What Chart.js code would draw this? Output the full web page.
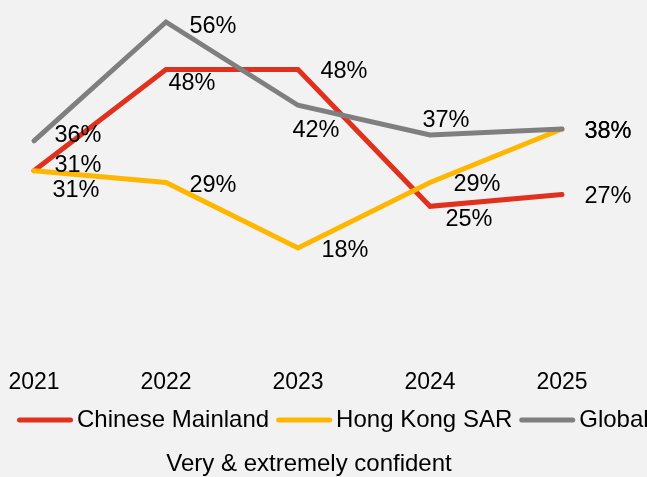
<!DOCTYPE html>
<html>
<head>
<meta charset="utf-8">
<script src="https://cdn.jsdelivr.net/npm/chart.js@4/dist/chart.umd.min.js"></script>
<style>
  html, body { margin: 0; padding: 0; background: #f2f2f2; }
  canvas { display: block; }
</style>
</head>
<body>
<canvas id="chart" width="647" height="477"></canvas>
<script>
// Survey years and share of CEOs "very & extremely confident" (%)
const years = ['2021', '2022', '2023', '2024', '2025'];
const mainland = [31, 48, 48, 25, 27];
const hongKong = [31, 29, 18, 29, 38];
const globalAvg = [36, 56, 42, 37, 38];
const seriesNames = ['Chinese Mainland', 'Hong Kong SAR', 'Global'];
const titleText = 'Very & extremely confident';

const FONT = '"Liberation Sans", Arial, Helvetica, sans-serif';
const colors = ['#e0301e', '#ffb600', '#7f7f7f'];

// Per-point label nudges (text centre relative to the point, px)
const labelNudges = [
  [[44, -6], [26, 13], [46, 1], [39, 12], [46, 1]],
  [[42, 19], [47, 2], [47, 2], [47, 1], [46, 1]],
  [[44, -6], [47, 4], [18, 24], [16, -15], [46, 1]]
];

// Value labels next to each point
const valueLabels = {
  id: 'valueLabels',
  afterDatasetsDraw(chart) {
    const ctx = chart.ctx;
    ctx.save();
    ctx.font = '23.5px ' + FONT;
    ctx.fillStyle = '#000';
    ctx.textAlign = 'center';
    ctx.textBaseline = 'middle';
    chart.data.datasets.forEach((ds, i) => {
      const meta = chart.getDatasetMeta(i);
      meta.data.forEach((pt, j) => {
        const [dx, dy] = labelNudges[i][j];
        ctx.fillText(ds.data[j] + '%', pt.x + dx, pt.y + dy + 1);
      });
    });
    ctx.restore();
  }
};

// Legend row and caption drawn under the axis
const legendAndCaption = {
  id: 'legendAndCaption',
  afterDraw(chart) {
    const ctx = chart.ctx;
    ctx.save();
    ctx.font = '24px ' + FONT;
    ctx.textBaseline = 'middle';
    ctx.textAlign = 'left';
    const sample = 56, gapAfterSample = 4, gapAfterText = 7;
    let x = 17;
    const y = 420;
    chart.data.datasets.forEach(ds => {
      ctx.strokeStyle = ds.borderColor;
      ctx.lineWidth = 5;
      ctx.lineCap = 'round';
      ctx.beginPath();
      ctx.moveTo(x + 2.5, y);
      ctx.lineTo(x + sample - 2.5, y);
      ctx.stroke();
      ctx.fillStyle = '#000';
      ctx.fillText(ds.label, x + sample + gapAfterSample, y);
      x += sample + gapAfterSample + ctx.measureText(ds.label).width + gapAfterText;
    });
    ctx.textAlign = 'center';
    ctx.fillText(titleText, 309, 464);
    ctx.restore();
  }
};

const series = [mainland, hongKong, globalAvg];

new Chart(document.getElementById('chart'), {
  type: 'line',
  data: {
    labels: years,
    datasets: series.map((vals, i) => ({
      label: seriesNames[i],
      data: vals,
      borderColor: colors[i],
      backgroundColor: colors[i],
      borderWidth: 5,
      borderCapStyle: 'round',
      borderJoinStyle: 'miter',
      pointRadius: 0,
      tension: 0,
      clip: false,
      order: 3 - i
    }))
  },
  options: {
    responsive: false,
    animation: false,
    events: [],
    layout: { padding: { left: 34, right: 85, top: 22, bottom: 77 } },
    plugins: {
      legend: { display: false },
      title: { display: false },
      tooltip: { enabled: false }
    },
    scales: {
      x: {
        offset: false,
        clip: false,
        grid: { display: false, drawTicks: false },
        border: { display: false },
        ticks: { color: '#000', font: { family: FONT, size: 23 }, padding: 14, maxRotation: 0 },
        afterFit(scale) {
          scale.height = 45;
          scale.paddingLeft = 0;
          scale.paddingRight = 0;
        }
      },
      y: {
        display: false,
        min: 0,
        max: 56
      }
    }
  },
  plugins: [valueLabels, legendAndCaption]
});
</script>
</body>
</html>
